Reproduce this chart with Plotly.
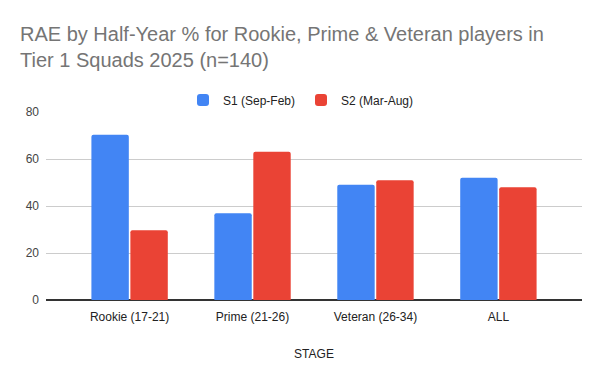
import plotly.graph_objects as go

categories = ["Rookie (17-21)", "Prime (21-26)", "Veteran (26-34)", "ALL"]
s1_values = [70.3, 36.9, 49.0, 52.0]
s2_values = [29.7, 63.1, 51.0, 48.0]
series_names = ["S1 (Sep-Feb)", "S2 (Mar-Aug)"]
y_ticks = [0, 20, 40, 60, 80]

W, H = 600, 371
L, R, T, B = 46, 18, 112, 71
PH = H - T - B

fig = go.Figure()
fig.add_trace(go.Bar(x=categories, y=s1_values, name=series_names[0],
                     marker=dict(color="#4285F4", line=dict(width=0))))
fig.add_trace(go.Bar(x=categories, y=s2_values, name=series_names[1],
                     marker=dict(color="#EA4335", line=dict(width=0))))

fig.update_layout(
    width=W, height=H,
    margin=dict(l=L, r=R, t=T, b=B, pad=0, autoexpand=False),
    paper_bgcolor="white", plot_bgcolor="white",
    font=dict(family="Liberation Sans, Arial", color="#222"),
    barmode="group", bargap=0.366, bargroupgap=0.04, barcornerradius=2,
    title=dict(text="RAE by Half-Year % for Rookie, Prime & Veteran players in<br>Tier 1 Squads 2025 (n=140)",
               x=20 / W, xref="container", xanchor="left",
               y=1 - 41 / H, yref="container", yanchor="top",
               font=dict(size=20, color="#757575", family="Liberation Sans, Arial")),
    legend=dict(orientation="h", x=(301 - L) / (W - L - R), xanchor="center",
                y=(H - B - 100) / PH, yanchor="middle",
                font=dict(size=12, color="#222"), itemwidth=30, entrywidth=73,
                traceorder="normal"),
    showlegend=True,
    xaxis=dict(range=[-0.68, 3.68], showgrid=False, showline=False, ticks="",
               automargin=False, ticklabelstandoff=8,
               tickfont=dict(size=12, color="#222"),
               title=dict(text="STAGE", font=dict(size=12, color="#222"), standoff=26)),
    yaxis=dict(range=[0, 80], tickvals=y_ticks, showgrid=True, gridcolor="#cccccc",
               automargin=False,
               gridwidth=1, zeroline=True, zerolinecolor="#333333", zerolinewidth=1.5,
               showline=False, ticks="", ticklabelstandoff=6,
               tickfont=dict(size=12, color="#444")),
)

fig.write_html("out.html", post_script="document.body.style.margin='0';",
               config={"displayModeBar": False})
